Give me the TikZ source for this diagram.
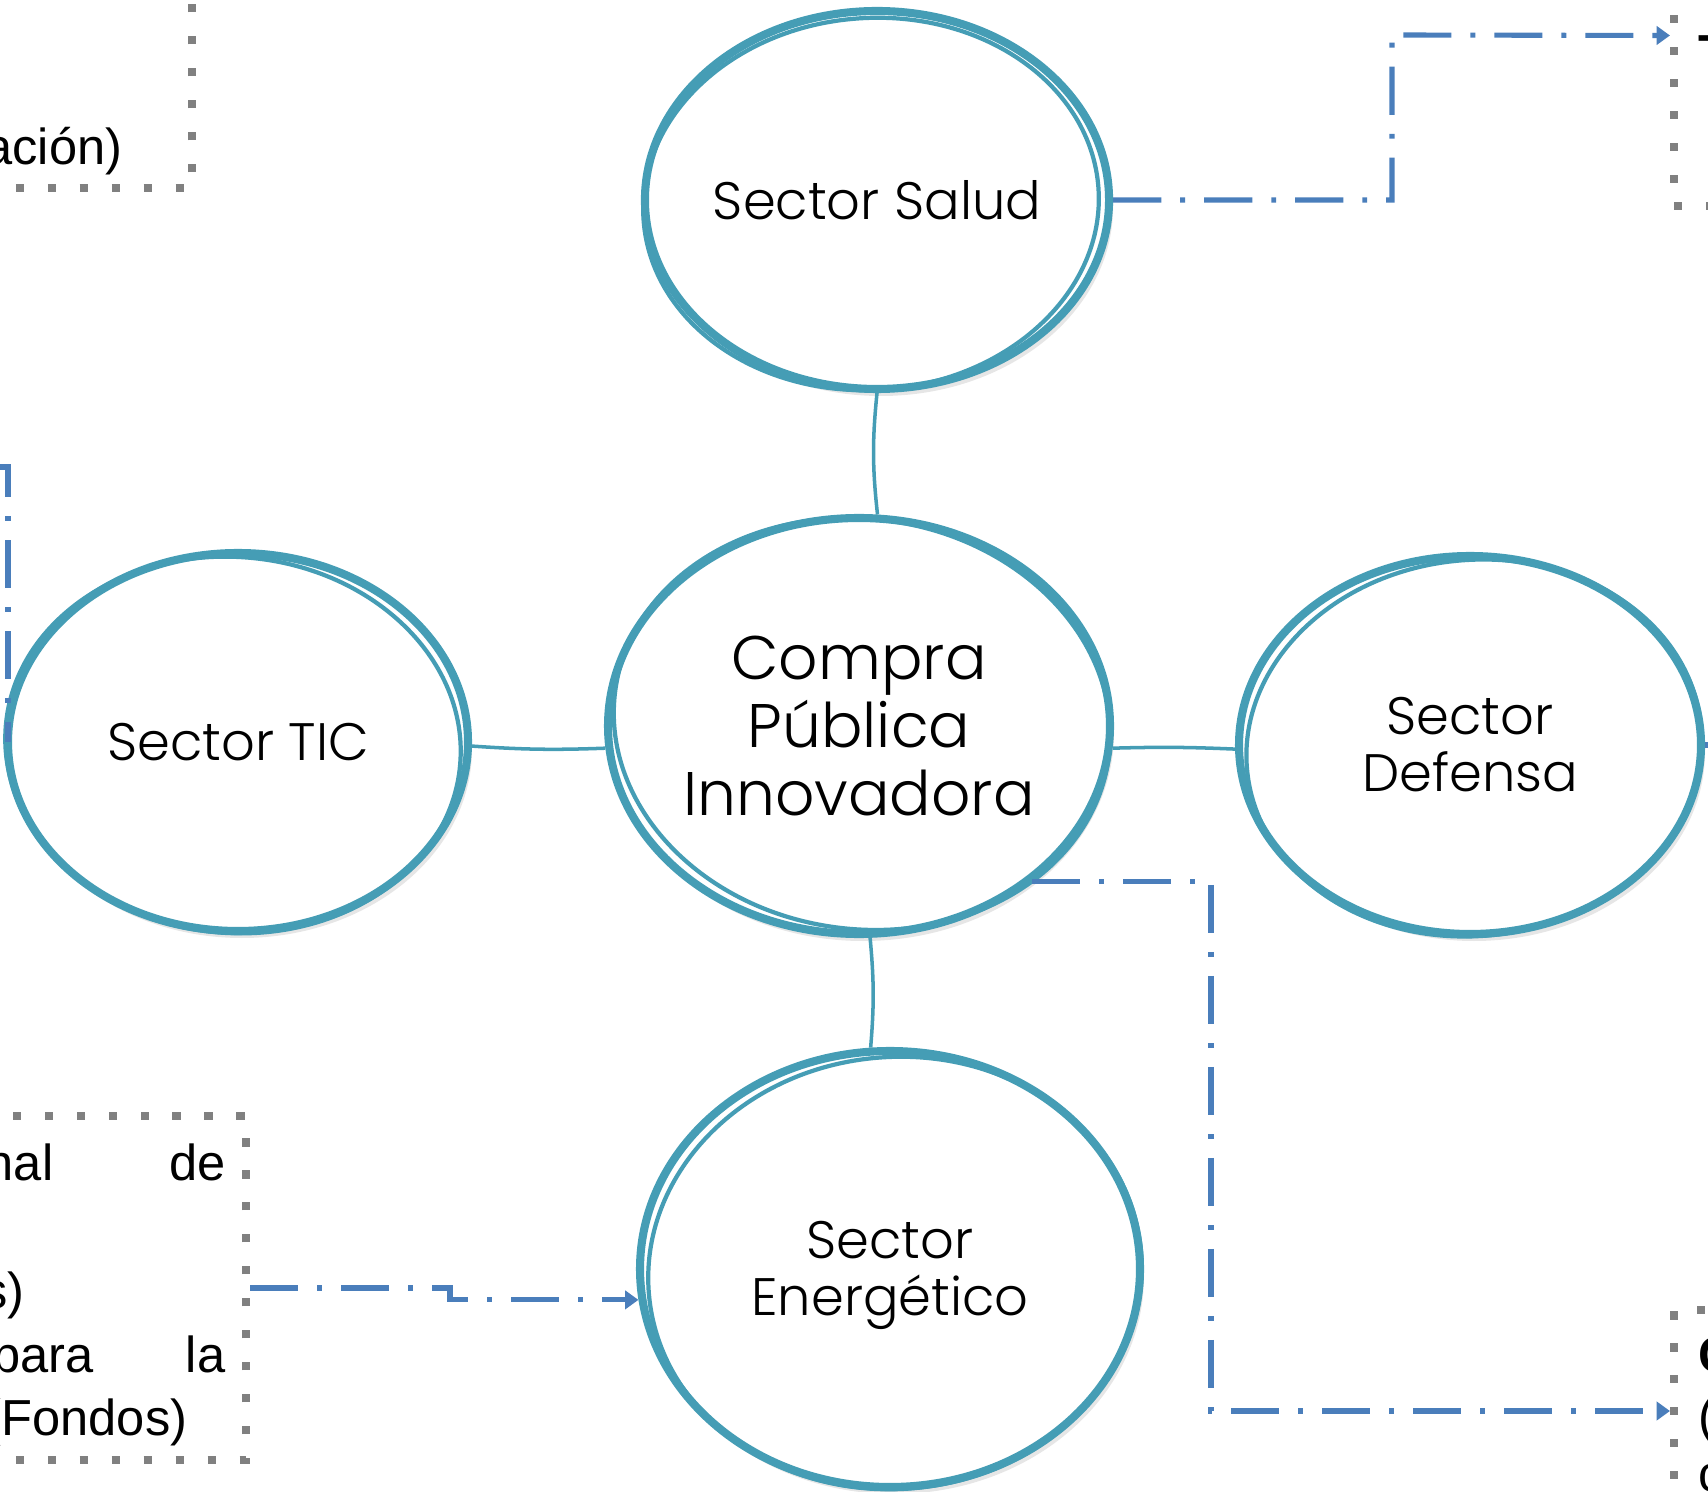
\documentclass[tikz,border=0pt]{standalone}
\usepackage{fontspec}
\setmainfont{Liberation Sans}
\IfFontExistsTF{Poppins Light}{\newfontfamily\circfont{Poppins Light}}{\newfontfamily\circfont{Poppins}}
\usetikzlibrary{shapes.geometric,arrows.meta,shadows}
\definecolor{teal1}{RGB}{69,157,181}
\definecolor{blue1}{RGB}{74,126,187}
\definecolor{gray1}{RGB}{128,128,128}
\begin{document}
\begin{tikzpicture}[x=0.1mm,y=-0.1mm,
  bub/.style={ellipse, draw=teal1, line width=2.3pt, fill=white, inner sep=0pt, align=center,
    font=\circfont\fontsize{15}{16.2}\selectfont,
    drop shadow={opacity=0.2, shadow xshift=0.4mm, shadow yshift=-0.7mm}},
  bigtxt/.style={font=\circfont\fontsize{17.5}{19.3}\selectfont},
  sk/.style={draw=teal1, line width=1.2pt},
  link/.style={draw=teal1, line width=1pt},
  flow/.style={draw=blue1, line width=1.45pt, dash pattern=on 13.7pt off 5.4pt on 1.4pt off 5.4pt},
  arr/.style={flow, -{Triangle[length=3.8pt,width=5.2pt]}},
  dotbox/.style={draw=gray1, line width=2.3pt, dash pattern=on 2.3pt off 6.8pt, inner sep=0pt},
  txt/.style={font=\fontsize{14.4}{18.2}\selectfont, inner sep=0pt},
  btxt/.style={font=\bfseries\fontsize{14.4}{18.2}\selectfont, inner sep=0pt}
]
\useasboundingbox (0,0) rectangle (1708,1492);

% dotted boxes (partly outside the frame)
\node[dotbox, minimum width=59.2mm, minimum height=28.8mm] (tl) at (-104,44) {};
\node[dotbox, minimum width=64.6mm, minimum height=34.4mm] (bl) at (-77,1288) {};
\node[dotbox, minimum width=42.6mm, minimum height=34.1mm] (tr) at (1887,35.5) {};
\node[dotbox, minimum width=42.6mm, minimum height=20.2mm] (br) at (1887,1411) {};

% texts of the boxes
\node[txt, anchor=base east] (t1) at (123,165) {ación)};
\node[txt, anchor=base east] (t2) at (54,1180) {nal};
\node[txt, anchor=base east] (t3) at (226,1180) {de};
\node[txt, anchor=base east] (t4) at (25,1308) {s)};
\node[txt, anchor=base east] (t5) at (94,1372) {para};
\node[txt, anchor=base east] (t6) at (226,1372) {la};
\node[txt, anchor=base east] (t7) at (188,1435) {(Fondos)};
\node[btxt, anchor=north west] (t8) at (1698,35) {T};
\node[btxt, anchor=base west] (t9) at (1698,1372) {C};
\node[txt, anchor=base west] (t10) at (1698,1433) {(};
\node[txt, anchor=base west] (t11) at (1698,1491) {c};

% ellipses
\node[bub, minimum width=46.2mm, minimum height=37.8mm] (S) at (877,200) {Sector Salud};
\node[bub, bigtxt, minimum width=50.2mm, minimum height=41.6mm] (C) at (859,726) {Compra\\Pública\\Innovadora};
\node[bub, minimum width=46.0mm, minimum height=37.8mm] (T) at (238,742) {Sector TIC};
\node[bub, minimum width=46.2mm, minimum height=37.8mm] (D) at (1470,745) {Sector\\Defensa};
\node[bub, minimum width=50.0mm, minimum height=43.6mm] (E) at (890,1269) {\rule{0pt}{14.5pt}Sector\\Energético};

% sketchy second outlines
\draw[sk] ([shift={(-6,4)}]S.center) ellipse [x radius=22.8mm, y radius=18.6mm, rotate=4];
\draw[sk] ([shift={(3,-2)}]C.center) ellipse [x radius=24.9mm, y radius=20.5mm, rotate=-8];
\draw[sk] ([shift={(-5,3)}]T.center) ellipse [x radius=22.8mm, y radius=18.8mm, rotate=-5];
\draw[sk] ([shift={(4,3)}]D.center) ellipse [x radius=22.8mm, y radius=18.8mm, rotate=6];
\draw[sk] ([shift={(5,4)}]E.center) ellipse [x radius=24.7mm, y radius=21.6mm, rotate=5];

% teal links
\draw[link] (S.south) to[bend right=6] (C.85);
\draw[link] (T.-1) to[bend right=3] (C.185);
\draw[link] (C.-5) to[bend left=2] (D.181);
\draw[link] (C.-87) to[bend left=5] (E.95);

% blue dash-dot connectors
\coordinate (lt) at (-10,467);
\coordinate (rt) at (1730,745);
\draw[arr] (S.east) -| (1392,35) -- (tr.west);
\draw[arr] (C.-42.5) -| (1211,1411) -- (br.west);
\draw[arr] (bl.east) -- (450,1288) |- (E.187);
\draw[flow] (lt) -| ([xshift=0.4mm]T.west);
\draw[flow] (D.east) -- (rt);
\end{tikzpicture}
\end{document}
